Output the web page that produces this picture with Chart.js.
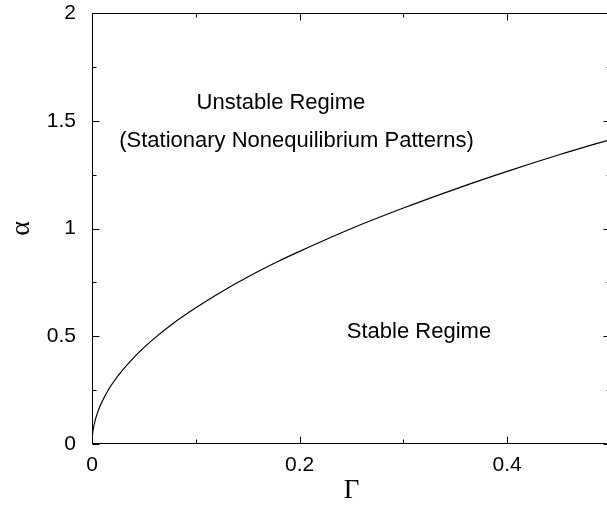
<!DOCTYPE html>
<html>
<head>
<meta charset="utf-8">
<script src="https://cdn.jsdelivr.net/npm/chart.js@4/dist/chart.umd.min.js"></script>
<style>
html, body { margin: 0; padding: 0; overflow: hidden; background: #fff; }
#wrap { width: 612px; height: 508px; position: relative; }
</style>
</head>
<body>
<div id="wrap"><canvas id="c"></canvas></div>
<script>
// Boundary curve: Gamma (x) vs alpha (y)
const gammaValues = [0, 0.0005, 0.001, 0.002, 0.004, 0.006, 0.008, 0.01, 0.015, 0.02, 0.03, 0.04, 0.05, 0.06, 0.08, 0.1, 0.12, 0.15, 0.18, 0.2, 0.25, 0.3, 0.35, 0.4, 0.45, 0.5];
const alphaValues = [0, 0.045, 0.063, 0.089, 0.126, 0.155, 0.179, 0.2, 0.245, 0.283, 0.346, 0.4, 0.447, 0.49, 0.566, 0.632, 0.693, 0.775, 0.849, 0.894, 1.0, 1.095, 1.183, 1.265, 1.342, 1.414];

// Tick marks and labels
const xMajorTicks = [0, 0.2, 0.4];
const xMinorTicks = [0.1, 0.3];
const xTickLabels = ['0', '0.2', '0.4'];
const yMajorTicks = [0, 0.5, 1, 1.5, 2];
const yMinorTicks = [0.25, 0.75, 1.25, 1.75];
const yTickLabels = ['0', '0.5', '1', '1.5', '2'];

// Region annotations (text, Gamma, alpha)
const noteTexts = ['Unstable Regime', '(Stationary Nonequilibrium Patterns)', 'Stable Regime'];
const noteGamma = [0.182, 0.197, 0.315];
const noteAlpha = [1.581, 1.405, 0.519];

const points = gammaValues.map((g, i) => ({ x: g, y: alphaValues[i] }));

const framePlugin = {
  id: 'frame',
  afterDraw(chart) {
    const { ctx, chartArea: a, scales: { x, y } } = chart;
    ctx.save();
    ctx.strokeStyle = '#000';
    ctx.lineWidth = 1;
    const L = Math.round(a.left) + 0.5, R = Math.round(a.right) - 0.5;
    const T = Math.round(a.top) + 0.5, B = Math.round(a.bottom) - 0.5;
    ctx.strokeRect(L, T, R - L, B - T);
    ctx.beginPath();
    const tickX = (v, len) => {
      const px = Math.round(x.getPixelForValue(v)) + 0.5;
      ctx.moveTo(px, B); ctx.lineTo(px, B - len);
      ctx.moveTo(px, T); ctx.lineTo(px, T + len);
    };
    const tickY = (v, len) => {
      const py = Math.round(y.getPixelForValue(v)) + 0.5;
      ctx.moveTo(L, py); ctx.lineTo(L + len, py);
      ctx.moveTo(R, py); ctx.lineTo(R - len, py);
    };
    xMajorTicks.forEach(v => tickX(v, 7));
    xMinorTicks.forEach(v => tickX(v, 4));
    yMajorTicks.forEach(v => tickY(v, 7));
    yMinorTicks.forEach(v => tickY(v, 4));
    ctx.stroke();
    ctx.fillStyle = '#000';
    ctx.font = '22px "Liberation Sans", Arial, sans-serif';
    ctx.textAlign = 'center';
    ctx.textBaseline = 'middle';
    noteTexts.forEach((t, i) => {
      ctx.fillText(t, x.getPixelForValue(noteGamma[i]), y.getPixelForValue(noteAlpha[i]));
    });
    ctx.restore();
  }
};

function zeroPad(s) { s.paddingTop = 0; s.paddingBottom = 0; s.paddingLeft = 0; s.paddingRight = 0; }

new Chart(document.getElementById('c'), {
  type: 'line',
  data: {
    datasets: [{
      data: points,
      borderColor: '#000',
      borderWidth: 1.2,
      pointRadius: 0,
      fill: false,
      cubicInterpolationMode: 'monotone'
    }]
  },
  options: {
    responsive: true,
    maintainAspectRatio: false,
    animation: false,
    devicePixelRatio: 1,
    layout: { padding: { top: 13, right: 1, left: 0, bottom: 0 } },
    plugins: { legend: { display: false }, tooltip: { enabled: false } },
    scales: {
      x: {
        type: 'linear',
        min: 0, max: 0.5,
        grid: { display: false, drawTicks: false },
        border: { display: false },
        afterBuildTicks(s) { s.ticks = xMajorTicks.map(v => ({ value: v })); },
        afterFit(s) { s.height = 64; zeroPad(s); },
        ticks: {
          padding: 9,
          color: '#000',
          maxRotation: 0,
          font: { family: '"Liberation Sans", Arial, sans-serif', size: 21 },
          callback: (v) => { const i = xMajorTicks.indexOf(v); return i >= 0 ? xTickLabels[i] : ''; }
        },
        title: {
          display: true, text: 'Γ', color: '#000',
          font: { family: '"Liberation Serif", "Times New Roman", serif', size: 27 },
          padding: { top: 0, bottom: 1 }
        }
      },
      y: {
        type: 'linear',
        min: 0, max: 2,
        grid: { display: false, drawTicks: false },
        border: { display: false },
        afterBuildTicks(s) { s.ticks = yMajorTicks.map(v => ({ value: v })); },
        afterFit(s) { s.width = 92; zeroPad(s); },
        ticks: {
          padding: 16,
          color: '#000',
          font: { family: '"Liberation Sans", Arial, sans-serif', size: 21 },
          callback: (v) => { const i = yMajorTicks.indexOf(v); return i >= 0 ? yTickLabels[i] : ''; }
        },
        title: {
          display: true, text: 'α', color: '#000',
          font: { family: '"Liberation Serif", "Times New Roman", serif', size: 28 },
          padding: { top: 5, bottom: 0 }
        }
      }
    }
  },
  plugins: [framePlugin]
});
</script>
</body>
</html>
